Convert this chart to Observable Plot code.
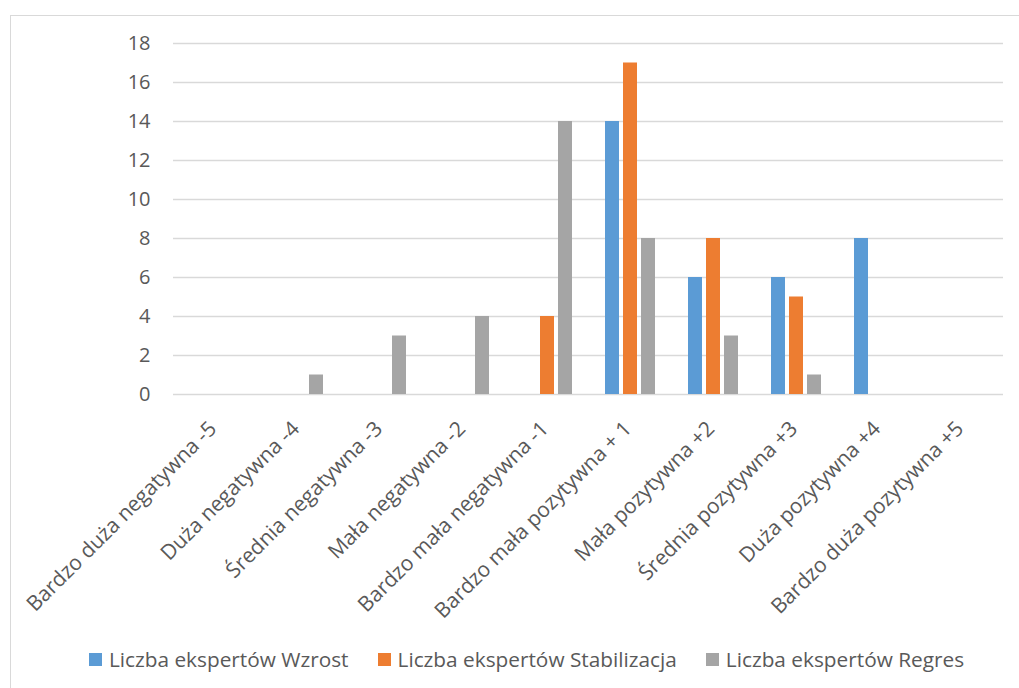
<!DOCTYPE html>
<html>
<head>
<meta charset="utf-8">
<script src="https://cdn.jsdelivr.net/npm/d3@7"></script>
<script src="https://cdn.jsdelivr.net/npm/@observablehq/plot@0.6"></script>
<style>
  html, body { margin: 0; padding: 0; background: #fff; overflow: hidden; }
  #wrap { position: relative; width: 1019px; height: 688px; }
  #frame { position: absolute; left: 10px; top: 15px; width: 1100px; height: 800px;
           border: 1px solid #d9d9d9; box-sizing: border-box; pointer-events: none; }
  #chart { position: absolute; left: 0; top: 0; }
  #legend { position: absolute; left: 0; top: 645px; width: 1019px; padding-left: 34px; box-sizing: border-box;
            display: flex; justify-content: center; align-items: center;
            font-family: "Open Sans", sans-serif; font-size: 20.8px; color: #595959; line-height: 28px; }
  .item { display: flex; align-items: center; margin: 0 14.5px; white-space: nowrap; }
  .sw { width: 13px; height: 13px; margin-right: 7px; display: inline-block; }
</style>
</head>
<body>
<div id="wrap">
  <div id="frame"></div>
  <div id="chart"></div>
  <div id="legend"></div>
</div>
<script>
const categories = [
  "Bardzo duża negatywna -5",
  "Duża negatywna -4",
  "Średnia negatywna -3",
  "Mała negatywna -2",
  "Bardzo mała negatywna -1",
  "Bardzo mała pozytywna + 1",
  "Mała pozytywna +2",
  "Średnia pozytywna +3",
  "Duża pozytywna +4",
  "Bardzo duża pozytywna +5"
];
const seriesNames = ["Liczba ekspertów Wzrost", "Liczba ekspertów Stabilizacja", "Liczba ekspertów Regres"];
const wzrost       = [0, 0, 0, 0, 0, 14, 6, 6, 8, 0];
const stabilizacja = [0, 0, 0, 0, 4, 17, 8, 5, 0, 0];
const regres       = [0, 1, 3, 4, 14, 8, 3, 1, 0, 0];
const colors = ["#5B9BD5", "#ED7D31", "#A5A5A5"];
const yTicks = [0, 2, 4, 6, 8, 10, 12, 14, 16, 18];

const seriesValues = [wzrost, stabilizacja, regres];
const table = [];
categories.forEach((c, i) => {
  seriesNames.forEach((s, j) => {
    table.push({category: c, series: s, value: seriesValues[j][i]});
  });
});

const chart = Plot.plot({
  width: 1019,
  height: 635,
  marginLeft: 172,
  marginRight: 15,
  marginTop: 43,
  marginBottom: 241,
  style: {fontFamily: "Open Sans, sans-serif", fontSize: "20px", color: "#595959", background: "transparent"},
  facet: {data: table, x: "category"},
  fx: {domain: categories, padding: 0, axis: "bottom", label: null, tickRotate: -45, tickSize: 0, tickPadding: 16},
  x: {domain: seriesNames, paddingInner: 0.225, paddingOuter: 0.837, axis: null},
  y: {domain: [0, 18], ticks: yTicks, tickSize: 0, tickPadding: 23, label: null},
  color: {domain: seriesNames, range: colors},
  marks: [
    Plot.ruleY(yTicks, {stroke: "#d9d9d9", strokeWidth: 1.3}),
    Plot.barY(table, {x: "series", y: "value", fill: "series", insetLeft: 0, insetRight: 0})
  ]
});
document.getElementById("chart").appendChild(chart);

// style tweak of the category labels: slightly larger, nudged to sit like the reference
d3.select(chart).selectAll('g[aria-label^="fx-axis"] text')
  .style("font-size", "21px")
  .attr("dx", -12)
  .attr("dy", 9);

const legend = document.getElementById("legend");
seriesNames.forEach((s, j) => {
  const item = document.createElement("span");
  item.className = "item";
  const sw = document.createElement("span");
  sw.className = "sw";
  sw.style.background = colors[j];
  item.appendChild(sw);
  item.appendChild(document.createTextNode(s));
  legend.appendChild(item);
});
</script>
</body>
</html>
